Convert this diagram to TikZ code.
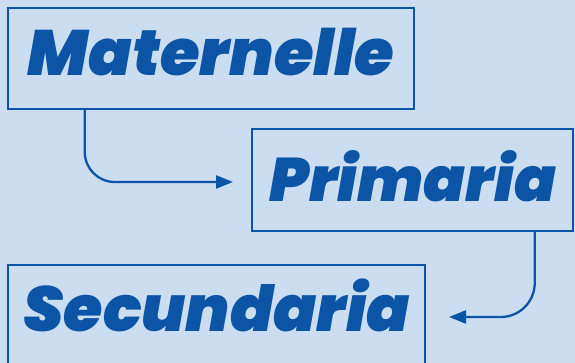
\documentclass[tikz,border=0pt]{standalone}
\usepackage{fontspec}
\usepackage{xcolor}
\usetikzlibrary{calc}
\usetikzlibrary{arrows.meta}
\newfontfamily\levelfont{Poppins Black Italic}
\definecolor{bgblue}{HTML}{CBDDF0}
\definecolor{inkblue}{HTML}{0C55A6}
\begin{document}
\begin{tikzpicture}[x=1pt,y=-1pt]%%niveles

                \tikzstyle{level} = [draw=inkblue, line width=2.5pt, text=inkblue, inner sep=0pt]
                \tikzstyle{link}  = [draw=inkblue, line width=2.3pt, -{Triangle[length=17pt,width=13pt]}]
                \fill[bgblue] (0,0) rectangle (575,363);
                \useasboundingbox (0,0) rectangle (575,363);

                \node [level, minimum width=406pt, minimum height=101pt, text height=45pt, text depth=11pt, font=\levelfont\fontsize{64}{64}\selectfont](mat) at (211,58.5) {Maternelle};
                \node [level, minimum width=321pt, minimum height=102pt, text height=44pt, text depth=0pt, font=\levelfont\fontsize{61.5}{62}\selectfont](pri) at (412.5,180) {Primaria};
                \node [level, minimum width=417pt, minimum height=101pt, text height=45pt, text depth=14pt, font=\levelfont\fontsize{63.5}{64}\selectfont](sec) at (216.5,315.5) {Secundaria};

                \coordinate (p1) at (233,182);
                \coordinate (s1) at (449,317);
                \draw [link, rounded corners=30pt] ($(mat.south west)+(78,0)$) |- (p1);
                \draw [link, rounded corners=34pt] ($(pri.south west)+(284,0)$) |- (s1);
\end{tikzpicture}
\end{document}
